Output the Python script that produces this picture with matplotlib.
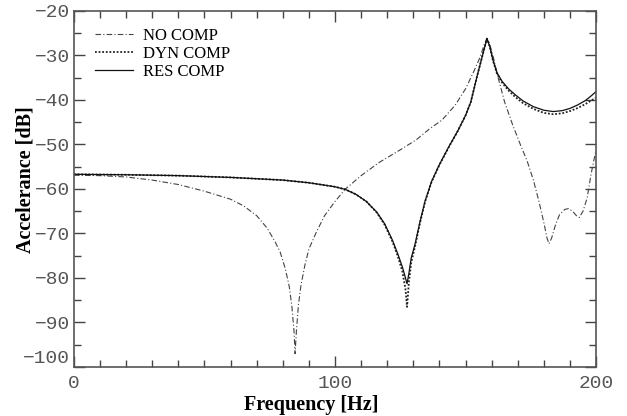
import matplotlib
matplotlib.use('Agg')
import matplotlib.pyplot as plt
from matplotlib.ticker import MultipleLocator

# NO COMP (dash-dot)
freq_no = [0, 10, 20, 30, 40, 50, 60, 65, 70, 74, 77, 79, 81, 82.5, 83.5, 84.3, 84.7,
           85.2, 86, 87, 88.5, 90, 93, 96, 100, 104, 110, 117, 125, 131, 136, 141, 146,
           150, 153, 155.5, 157.3, 158.2, 159, 160.5, 162.5, 165, 168, 171, 173.6, 176,
           178, 180, 181.2, 182, 183, 184.5, 186, 188, 189.5, 191, 192.5, 193.6, 195,
           196.6, 198, 199, 200]
acc_no = [-56.9, -57.0, -57.3, -58.0, -59.0, -60.5, -62.3, -63.8, -66.0, -68.8, -71.8,
          -74.2, -78.0, -82.0, -86.5, -92.0, -97.0, -92.0, -86.0, -81.5, -77.0, -73.5,
          -69.5, -66.0, -62.8, -60.0, -57.0, -54.0, -51.2, -49.0, -46.6, -44.5, -41.2,
          -37.5, -33.8, -30.5, -27.3, -26.2, -27.0, -30.0, -35.0, -40.5, -45.5, -50.0,
          -53.7, -58.0, -62.5, -67.5, -71.0, -72.3, -71.0, -68.0, -65.8, -64.6, -64.4,
          -65.0, -66.0, -66.4, -65.0, -62.0, -57.0, -54.0, -51.3]

# DYN COMP and RES COMP share the frequency points
freq_comp = [0, 20, 40, 60, 80, 90, 100, 104, 108, 112, 116, 119, 122, 124, 125.8, 127,
             127.6, 128.3, 129.2, 130.7, 132.5, 134.5, 137, 140, 143.6, 147, 150, 152,
             154.5, 156.5, 158.2, 159.3, 160.5, 162, 164, 166.5, 169, 172, 176, 180,
             183.6, 187, 190, 193, 196, 198.5, 200]
acc_res = [-56.7, -56.8, -57.0, -57.4, -58.0, -58.6, -59.5, -60.1, -61.2, -62.8, -65.2,
           -67.8, -71.5, -74.5, -77.5, -80.0, -81.3, -79.0, -75.5, -72.3, -67.5, -62.7,
           -58.3, -54.5, -50.5, -47.0, -43.5, -40.5, -34.5, -30.0, -26.2, -28.0, -31.0,
           -33.8, -35.8, -37.5, -38.8, -40.2, -41.5, -42.3, -42.6, -42.4, -41.9, -41.1,
           -40.1, -38.9, -38.1]
acc_dyn = [-56.7, -56.8, -57.0, -57.4, -58.0, -58.6, -59.5, -60.1, -61.2, -62.8, -65.3,
           -68.0, -71.8, -75.0, -78.5, -82.5, -86.5, -81.0, -76.5, -72.8, -67.8, -62.9,
           -58.4, -54.6, -50.6, -47.0, -43.5, -40.5, -34.5, -30.0, -26.2, -28.0, -31.1,
           -34.0, -36.1, -37.9, -39.3, -40.7, -42.0, -42.9, -43.2, -43.0, -42.5, -41.8,
           -40.9, -40.0, -39.5]

x_ticks = [0, 100, 200]
y_ticks = [-20, -30, -40, -50, -60, -70, -80, -90, -100]

plt.rcParams['font.family'] = ['Liberation Serif', 'DejaVu Serif']

fig = plt.figure(figsize=(6.27, 4.16), dpi=100)
ax = fig.add_axes([0.118, 0.1178, 0.8326, 0.8558])

ax.plot(freq_no, acc_no, color='#444444', lw=0.8, linestyle=(0, (5, 2, 1, 2)), label='NO COMP')
ax.plot(freq_comp, acc_dyn, color='#222222', lw=1.3, linestyle=(0, (1, 1)), label='DYN COMP')
ax.plot(freq_comp, acc_res, color='#111111', lw=0.9, label='RES COMP')

ax.set_xlim(0, 200)
ax.set_ylim(-100, -20)
ax.set_xticks(x_ticks)
ax.set_yticks(y_ticks)
ax.xaxis.set_minor_locator(MultipleLocator(10))
ax.yaxis.set_minor_locator(MultipleLocator(5))

tick_font = {'family': 'Liberation Mono', 'size': 14, 'color': '#555555'}
ax.set_xticklabels([str(v) for v in x_ticks], fontdict=tick_font)
ax.set_yticklabels(['\u2212' + str(-v) for v in y_ticks], fontdict=tick_font)
ax.get_yticklabels()[-1].set_verticalalignment('bottom')

ax.tick_params(which='both', direction='in', top=True, right=True, color='#444444', width=1.0)
ax.tick_params(which='major', length=8)
ax.tick_params(which='minor', length=5)
ax.tick_params(axis='x', pad=6)
ax.tick_params(axis='y', pad=3)

for s in ax.spines.values():
    s.set_color('#555555')
    s.set_linewidth(1.2)

ax.set_xlabel('Frequency [Hz]', fontsize=14.5, fontweight='bold')
ax.set_ylabel('Accelerance [dB]', fontsize=14.5, fontweight='bold')
ax.xaxis.set_label_coords(0.455, -0.08)
ax.yaxis.set_label_coords(-0.074, 0.527)

ax.legend(loc='upper left', bbox_to_anchor=(0.04, 0.952), frameon=False, fontsize=12,
          handlelength=2.3, handletextpad=0.6, labelspacing=0.12, borderpad=0,
          borderaxespad=0)

fig.savefig('out.png', dpi=100)
